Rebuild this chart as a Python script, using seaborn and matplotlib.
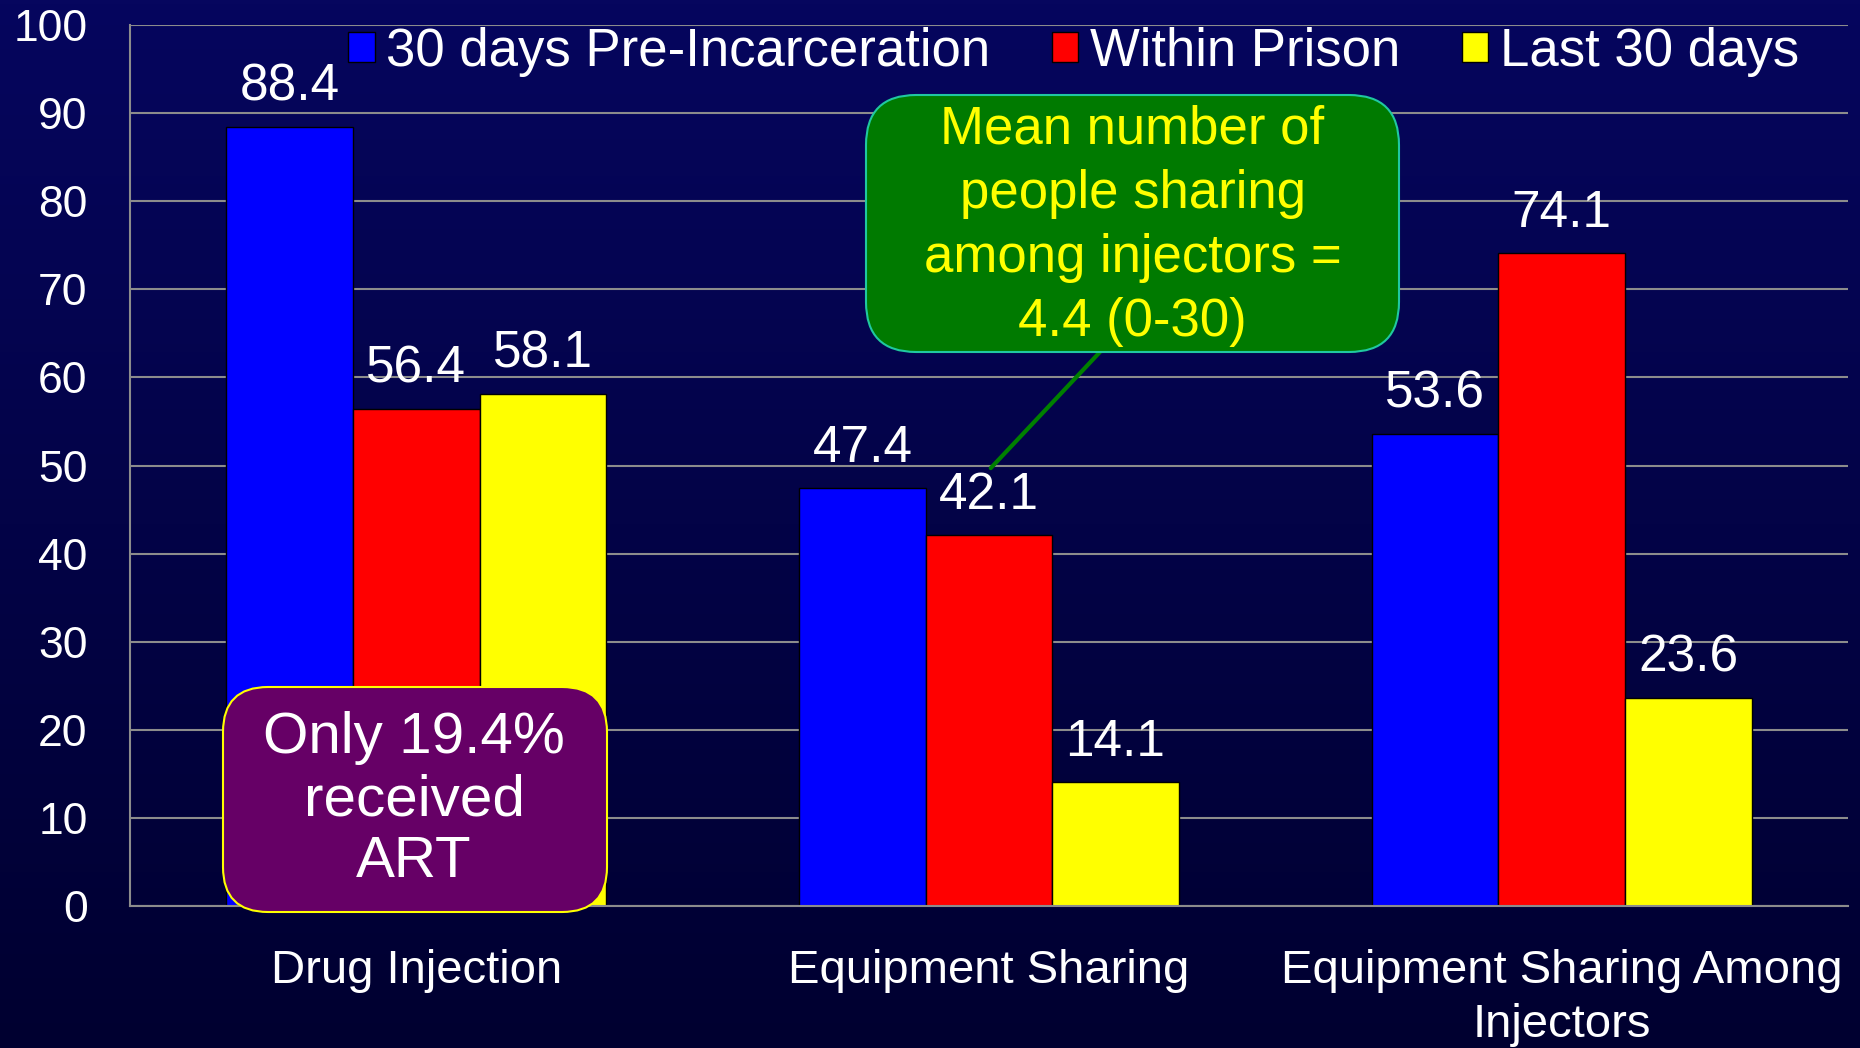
import numpy as np
import pandas as pd
import matplotlib
matplotlib.use("Agg")
import matplotlib.pyplot as plt
import seaborn as sns
from matplotlib.colors import LinearSegmentedColormap
from matplotlib.patches import FancyBboxPatch

categories = ["Drug Injection", "Equipment Sharing", "Equipment Sharing Among\nInjectors"]
periods = ["30 days Pre-Incarceration", "Within Prison", "Last 30 days"]
pre_incarceration = [88.4, 47.4, 53.6]
within_prison = [56.4, 42.1, 74.1]
last_30_days = [58.1, 14.1, 23.6]
bar_colors = ["#0000FF", "#FF0000", "#FFFF00"]
y_ticks = list(range(0, 101, 10))

df = pd.DataFrame({
    "category": categories * 3,
    "period": np.repeat(periods, len(categories)),
    "value": pre_incarceration + within_prison + last_30_days,
})

sns.set_style("white")
plt.rcParams["font.family"] = ["Liberation Sans", "DejaVu Sans"]

GRID = "#8C8C8C"

fig = plt.figure(figsize=(18.6, 10.48), dpi=100)

# dark navy gradient background
bg = fig.add_axes([0, 0, 1, 1], zorder=-10)
grad = np.linspace(0, 1, 256).reshape(-1, 1)
bg.imshow(grad, aspect="auto", extent=[0, 1, 0, 1],
          cmap=LinearSegmentedColormap.from_list("bg", ["#06065E", "#000030"]))
bg.axis("off")

ax = fig.add_axes([130 / 1860, 1 - 906 / 1048, (1848 - 130) / 1860, (906 - 25) / 1048])
ax.patch.set_alpha(0)

sns.barplot(data=df, x="category", y="value", hue="period", palette=bar_colors,
            width=0.663, saturation=1, edgecolor="#000000", linewidth=1, ax=ax)

for cont in ax.containers:
    ax.bar_label(cont, fmt="%.1f", padding=11, color="white", fontsize=37)

ax.set_xlim(-0.5, 2.5)
ax.set_ylim(0, 100)
ax.set_yticks(y_ticks)
ax.set_xlabel("")
ax.set_ylabel("")
ax.set_xticks([-0.5, 0.5, 1.5, 2.5], minor=True)
ax.tick_params(axis="x", which="major", length=0, pad=31, labelsize=34, labelcolor="white")
ax.tick_params(axis="x", which="minor", length=11, width=1.5, color=GRID)
ax.tick_params(axis="y", length=9.5, width=1.5, color=GRID, pad=21, labelsize=32, labelcolor="white")
for lbl in ax.get_xticklabels():
    lbl.set_linespacing(1.3)
ax.yaxis.grid(True, color=GRID, linewidth=1.5)
ax.set_axisbelow(True)
for side in ["top", "right"]:
    ax.spines[side].set_visible(False)
for side in ["left", "bottom"]:
    ax.spines[side].set_color(GRID)
    ax.spines[side].set_linewidth(1.5)

sns.move_legend(ax, "upper left", bbox_to_anchor=(0.127, 0.998), ncol=3, frameon=False,
                title=None, fontsize=38, labelcolor="white", handlelength=0.5,
                handleheight=0.5, handletextpad=0.22, columnspacing=1.17,
                borderpad=0, borderaxespad=0)

# callout: ART
fig.add_artist(FancyBboxPatch((2.23, 1.36), 3.84, 2.25,
                              boxstyle="round,pad=0,rounding_size=0.45",
                              transform=fig.dpi_scale_trans, facecolor="#660066",
                              edgecolor="#FFFF00", linewidth=1.5, zorder=5))
fig.text(4.14, 2.48, "Only 19.4%\nreceived\nART", transform=fig.dpi_scale_trans,
         ha="center", va="center", fontsize=42, color="white", linespacing=1.2, zorder=6)

# callout: mean number sharing
ax.plot([1.194, 1.003], [62.9, 49.7], color="#008000", linewidth=3, zorder=4)
fig.add_artist(FancyBboxPatch((8.66, 6.96), 5.33, 2.57,
                              boxstyle="round,pad=0,rounding_size=0.5",
                              transform=fig.dpi_scale_trans, facecolor="#007A00",
                              edgecolor="#20C8A0", linewidth=1.5, zorder=5))
fig.text(11.325, 8.22, "Mean number of\npeople sharing\namong injectors =\n4.4 (0-30)",
         transform=fig.dpi_scale_trans, ha="center", va="center", fontsize=38,
         color="#FFFF00", linespacing=1.36, zorder=6)

fig.savefig("out.png", dpi=100)
